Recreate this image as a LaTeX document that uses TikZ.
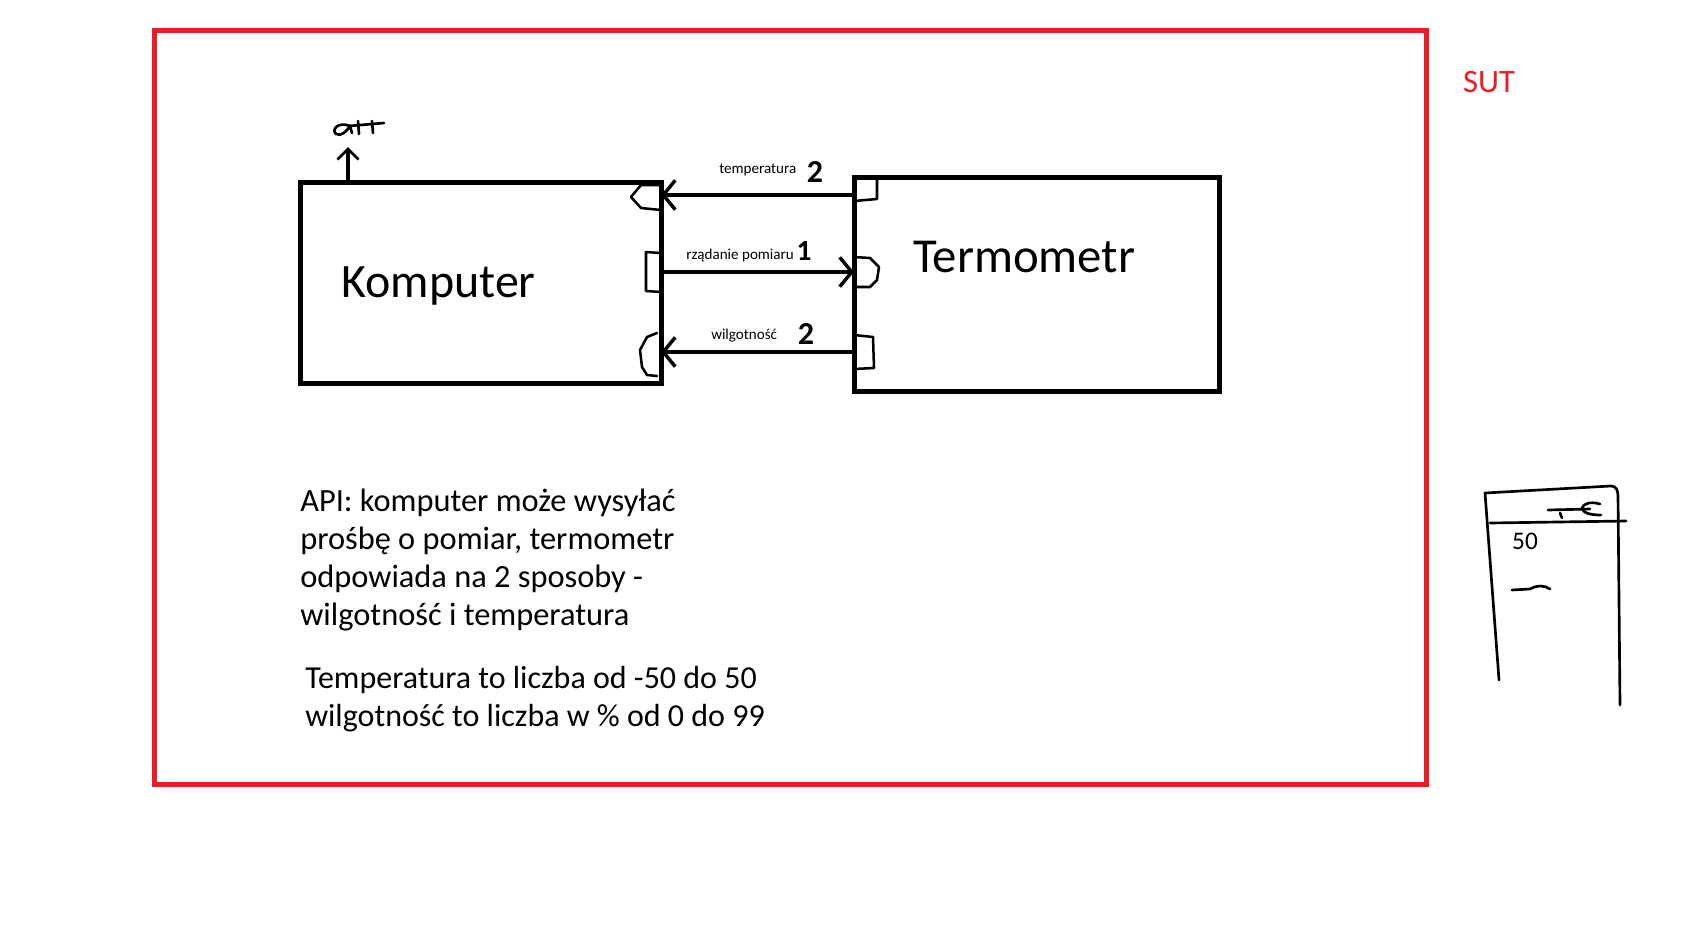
\documentclass[tikz,border=0pt]{standalone}
\usepackage{fontspec}
\setmainfont{Carlito}
\usetikzlibrary{positioning,arrows.meta,calc}
\definecolor{PaintRed}{RGB}{237,28,36}

\begin{document}
\begin{tikzpicture}[x=0.75pt, y=-0.75pt,
    box/.style={rectangle, draw=black, line width=3.75pt, outer sep=0pt, inner sep=0pt},
    msg/.style={-{Straight Barb[length=9pt, width=22pt, line width=2.6pt]}, line width=3pt},
    sock/.style={line width=1.9pt, line join=round, line cap=round},
    scrib/.style={line width=2pt, line cap=round, line join=round},
    lbl/.style={font=\fontsize{11.3}{13}\selectfont, inner sep=0pt, anchor=base west},
    hand/.style={font=\fontsize{24}{24}\selectfont\bfseries, inner sep=0pt},
    body/.style={font=\fontsize{24.3}{28.5}\selectfont, align=left, inner sep=0pt, anchor=base west},
    big/.style={font=\fontsize{36}{40}\selectfont, inner sep=0pt, anchor=base west}
]
\useasboundingbox (0,0) rectangle (1692,925);
\fill[white] (0,0) rectangle (1692,925);

% system under test
\draw[draw=PaintRed, line width=3.75pt] (154.5,30.5) rectangle (1426,784.5);
\node[font=\fontsize{24.5}{28}\selectfont, text=PaintRed, inner sep=0pt, anchor=base] (sutLabel) at (1489,92) {SUT};

% boxes
\node[box, minimum width=270.75pt, minimum height=150.75pt] (komp) at (480.5,282.5) {};
\node[box, minimum width=273.75pt, minimum height=160.5pt] (term) at (1036.5,284) {};
\node[big] (kompLabel) at (341,297) {Komputer};
\node[big, font=\fontsize{36.6}{40}\selectfont] (termLabel) at (913,272) {Termometr};

% messages
\coordinate (rowT) at (0,195);
\coordinate (rowM) at (0,272);
\coordinate (rowB) at (0,352);
\draw[msg] (term.west |- rowT) -- (komp.east |- rowT);
\draw[msg] (komp.east |- rowM) -- (term.west |- rowM);
\draw[msg] (term.west |- rowB) -- (komp.east |- rowB);

\node[lbl] (tempLabel) at (719,173) {temperatura};
\node[lbl] (reqLabel)  at (686,259) {rządanie pomiaru};
\node[lbl] (humLabel)  at (711,339) {wilgotność};
\node[hand] (tempNo) at (815,172) {2};
\node[hand, font=\fontsize{22}{22}\selectfont\bfseries] (reqNo) at (804,251) {1};
\node[hand] (humNo) at (806,334) {2};

% interface sockets
\draw[sock] (661,185) -- (641,185) -- (631,197) -- (641,208) -- (661,210);
\draw[sock] (661,253) -- (646,252) -- (646,291) -- (661,292);
\draw[sock] (657,333) -- (647,337) -- (640,350) -- (642,367) -- (647,375) -- (657,376);
\draw[sock] (877,178) -- (877,199) -- (854,201);
\draw[sock] (854,257) -- (870,258) -- (879,267) -- (877,280) -- (870,287) -- (854,287);
\draw[sock] (854,335) -- (873,337) -- (874,368) -- (854,369);

% api out of the computer
\coordinate (apiTip) at (348,147);
\draw[-{Straight Barb[length=8pt, width=16pt, line width=2pt]}, line width=2.3pt] (komp.north -| apiTip) -- (apiTip);
\draw[scrib] (350,126) .. controls (338,121) and (331,130) .. (336,134) .. controls (341,137) and (347,131) .. (350,126) -- (352,133);
\draw[scrib] (349,126) -- (384,123);
\draw[scrib] (358,121) -- (359,134);
\draw[scrib] (372,121) -- (373,133);

% API description
\node[body] (apiText) at (300,625) {API: komputer może wysyłać\\prośbę o pomiar, termometr\\odpowiada na 2 sposoby -\\wilgotność i temperatura};
\node[body, font=\fontsize{24}{28.5}\selectfont] (rangeText) at (305,726) {Temperatura to liczba od -50 do 50\\wilgotność to liczba w \% od 0 do 99};

% thermometer display sketch
\draw[scrib] (1485,493) -- (1499,680);
\draw[scrib] (1485,493) -- (1611,486) .. controls (1616,486) and (1618,490) .. (1618,496) -- (1620,705);
\draw[scrib] (1490,523) -- (1626,521);
\draw[scrib] (1548,510) -- (1590,509);
\draw[scrib] (1560,513) -- (1562,518);
\draw[scrib] (1600,504) .. controls (1590,501) and (1583,504) .. (1582,508) .. controls (1583,513) and (1590,515) .. (1601,515);
\node[hand, font=\fontsize{19}{19}\selectfont] (display) at (1525,541) {50};
\draw[scrib] (1512,590) -- (1530,589) .. controls (1537,585) and (1544,585) .. (1550,589);
\end{tikzpicture}
\end{document}
